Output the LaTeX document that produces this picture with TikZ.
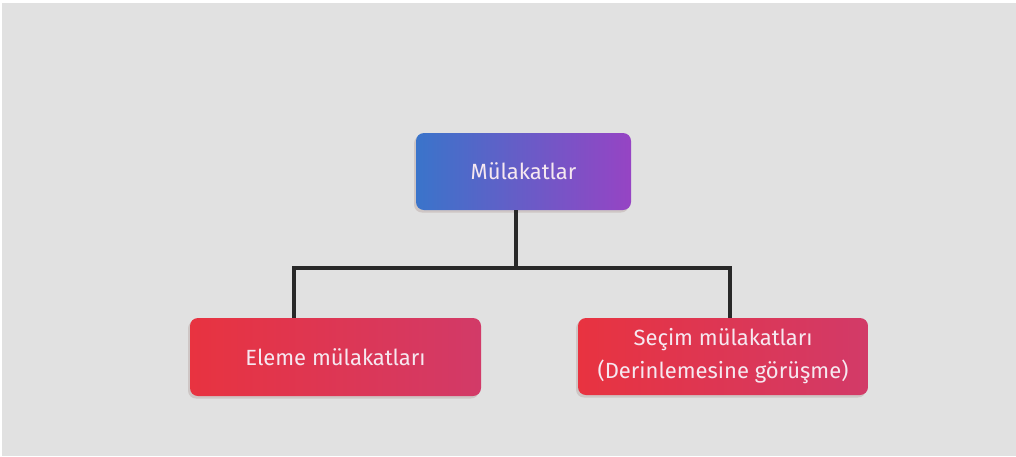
\documentclass[tikz,border=0pt]{standalone}
\usepackage{fontspec}
\setmainfont{Fira Sans}
\usetikzlibrary{shadows}
\definecolor{canvasgray}{RGB}{225,225,225}
\definecolor{headL}{RGB}{58,116,202}
\definecolor{headR}{RGB}{150,68,196}
\definecolor{leafL}{RGB}{232,51,64}
\definecolor{leafR}{RGB}{210,58,104}
\definecolor{linedark}{RGB}{40,40,40}
\definecolor{labeltext}{RGB}{246,232,240}
\definecolor{shadowtone}{RGB}{120,80,70}
\begin{document}
\begin{tikzpicture}[x=1pt,y=-1pt,
  box/.style={rounded corners=8pt, shading=axis, shading angle=90,
    text=labeltext, align=center, font=\fontsize{22}{33}\selectfont,
    inner sep=0pt,
    drop shadow={shadow xshift=-2pt, shadow yshift=-2.5pt, opacity=0.18, fill=shadowtone}},
  headbox/.style={box, left color=headL, right color=headR},
  leafbox/.style={box, left color=leafL, right color=leafR},
  conn/.style={line width=3.2pt, draw=linedark}]
% canvas
\path[use as bounding box, fill=white] (0,0) rectangle (1016,456);
\fill[canvasgray] (2,3) rectangle (1016,456);
% boxes
\node[headbox, minimum width=215pt, minimum height=77pt] (top) at (523.5,171.5) {Mülakatlar};
\node[leafbox, minimum width=291pt, minimum height=78pt] (left) at (335.5,357) {Eleme mülakatları};
\node[leafbox, minimum width=290pt, minimum height=77pt] (right) at (723,356.5) {Seçim mülakatları\\(Derinlemesine görüşme)};
% connectors
\coordinate (busL) at (294,268);
\coordinate (busR) at (730,268);
\coordinate (stem) at (516,268);
\draw[conn] (top.south -| stem) -- (stem);
\draw[conn, line cap=rect] (busL) -- (busR);
\draw[conn] (busL) -- (busL |- left.north);
\draw[conn] (busR) -- (busR |- right.north);
\end{tikzpicture}
\end{document}
